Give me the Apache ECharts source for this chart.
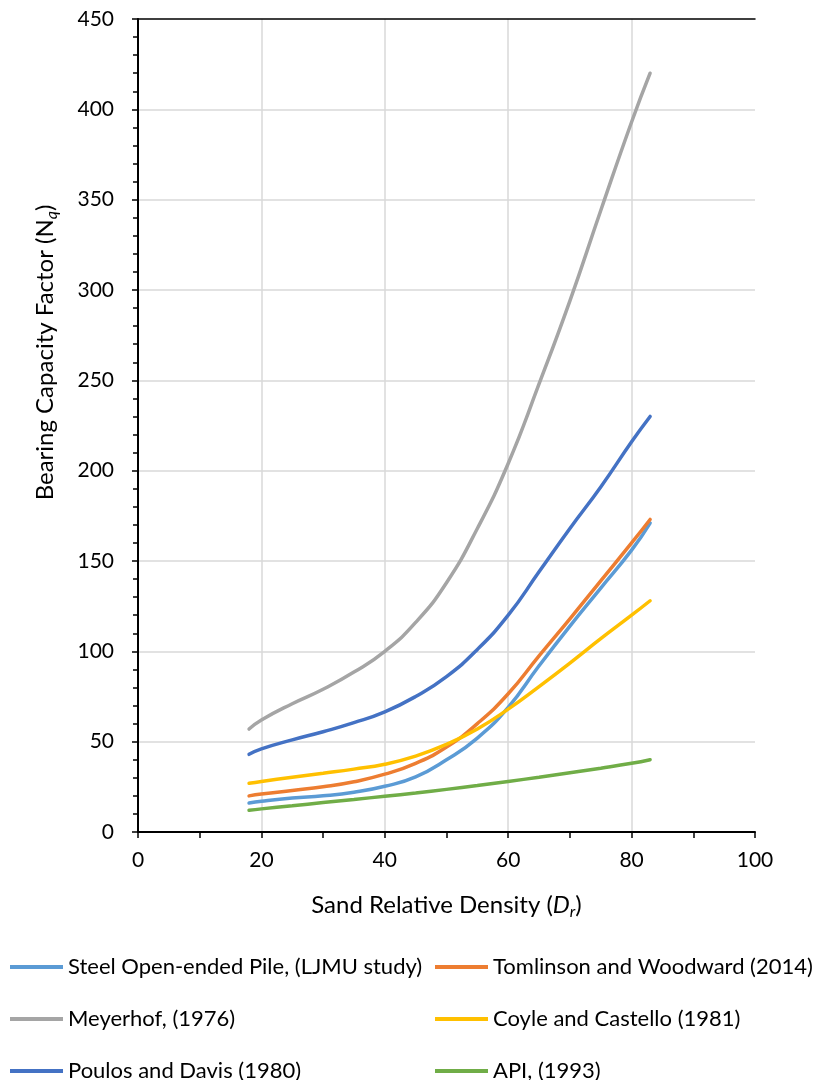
<!DOCTYPE html>
<html>
<head>
<meta charset="utf-8">
<title>Bearing Capacity Factor vs Sand Relative Density</title>
<script src="https://cdn.jsdelivr.net/npm/echarts@6/dist/echarts.min.js"></script>
<style>
  html, body { margin: 0; padding: 0; background: #ffffff; }
  #chart { width: 824px; height: 1080px; }
</style>
</head>
<body>
<div id="chart"></div>
<script>
// Sand relative density, Dr (%)
const densities = [18, 20, 25, 30, 35, 40, 45, 50, 55, 60, 65, 70, 75, 80, 83];

// Bearing capacity factor Nq for each method
const ljmuStudy   = [16, 17, 18.8, 20, 22, 25.3, 30.5, 40, 52, 69, 92, 114, 135, 156, 171];
const tomlinson   = [20, 21, 23, 25, 27.8, 32, 38, 47, 60, 76.5, 97.5, 118, 139, 160, 173];
const meyerhof    = [57, 62, 71, 79, 88.5, 100, 116, 138, 168, 204, 248, 294, 344, 393, 420];
const coyle       = [27, 28, 30.3, 32.5, 34.8, 37.5, 42, 48.5, 57, 68, 80.5, 93.5, 107, 120, 128];
const poulos      = [43, 46, 51, 55.5, 60.5, 66.5, 75, 86, 101, 120, 144, 168, 191, 216, 230];
const api         = [12, 12.8, 14.5, 16.3, 18, 19.8, 21.6, 23.6, 25.7, 28, 30.3, 32.8, 35.3, 38, 40];

const seriesNames = [
  'Steel Open-ended Pile, (LJMU study)',
  'Tomlinson and Woodward (2014)',
  'Meyerhof, (1976)',
  'Coyle and Castello (1981)',
  'Poulos and Davis (1980)',
  'API, (1993)'
];
const seriesValues = [ljmuStudy, tomlinson, meyerhof, coyle, poulos, api];
const seriesColors = ['#5B9BD5', '#ED7D31', '#A5A5A5', '#FFC000', '#4472C4', '#70AD47'];

const xTicks = { min: 0, max: 100, interval: 20 };
const yTicks = { min: 0, max: 450, interval: 50 };

const FONT = 'Lato';
const TEXT = '#000000';

const chart = echarts.init(document.getElementById('chart'), null, { renderer: 'canvas' });

const series = seriesNames.map((name, i) => ({
  name: name,
  type: 'line',
  smooth: 0.5,
  showSymbol: false,
  symbol: 'none',
  xAxisIndex: 0,
  yAxisIndex: 0,
  color: seriesColors[i],
  lineStyle: { width: 3.5, color: seriesColors[i], cap: 'round' },
  data: densities.map((d, j) => [d, seriesValues[i][j]])
}));

// Legend laid out as two columns of three rows, one entry per component
const legendColumns = [10, 435];
const legendRows = [955, 1007, 1059];
const legends = seriesNames.map((name, i) => ({
  data: [name],
  left: legendColumns[i % 2],
  top: legendRows[Math.floor(i / 2)],
  icon: 'rect',
  itemWidth: 53,
  itemHeight: 4,
  padding: 0,
  textStyle: { fontFamily: FONT, fontSize: 22, color: TEXT, lineHeight: 24 }
}));

const option = {
  backgroundColor: '#ffffff',
  animation: false,
  grid: { left: 138, right: 69, top: 19, bottom: 248, containLabel: false },
  legend: legends,
  xAxis: [
    {
      type: 'value',
      position: 'bottom',
      min: xTicks.min, max: xTicks.max, interval: xTicks.interval,
      name: '{a|Sand Relative Density (}{d|D}{r|r}{a|)}',
      nameLocation: 'middle',
      nameGap: 58,
      nameTextStyle: {
        rich: {
          a: { fontFamily: FONT, fontSize: 24, color: TEXT, lineHeight: 30, verticalAlign: 'middle' },
          d: { fontFamily: FONT, fontSize: 24, color: TEXT, fontStyle: 'italic', lineHeight: 30, verticalAlign: 'middle' },
          r: { fontFamily: FONT, fontSize: 16, color: TEXT, fontStyle: 'italic', lineHeight: 16, verticalAlign: 'bottom' }
        }
      },
      axisLine: { show: true, onZero: false, lineStyle: { color: '#000000', width: 2 } },
      axisTick: { show: true, inside: false, length: 6, lineStyle: { color: '#000000', width: 1.5 } },
      minorTick: { show: true, splitNumber: 2, length: 6, lineStyle: { color: '#000000', width: 1.5 } },
      axisLabel: { fontFamily: FONT, fontSize: 21, color: TEXT, margin: 18 },
      splitLine: { show: true, showMinLine: false, showMaxLine: false, lineStyle: { color: '#D9D9D9', width: 1.5 } }
    },
    {
      // top frame edge of the plot area
      type: 'value',
      position: 'top',
      min: xTicks.min, max: xTicks.max, interval: xTicks.interval,
      axisLine: { show: true, onZero: false, lineStyle: { color: '#000000', width: 1.5 } },
      axisTick: { show: false },
      axisLabel: { show: false },
      splitLine: { show: false }
    }
  ],
  yAxis: {
    type: 'value',
    min: yTicks.min, max: yTicks.max, interval: yTicks.interval,
    name: '{a|Bearing Capacity Factor (N}{q|q}{a|)}',
    nameLocation: 'middle',
    nameGap: 78,
    nameTextStyle: {
      padding: [0, 0, 0, 146],
      rich: {
        a: { fontFamily: FONT, fontSize: 24, color: TEXT, lineHeight: 30, verticalAlign: 'middle' },
        q: { fontFamily: FONT, fontSize: 16, color: TEXT, fontStyle: 'italic', lineHeight: 16, verticalAlign: 'bottom' }
      }
    },
    axisLine: { show: true, onZero: false, lineStyle: { color: '#000000', width: 2 } },
    axisTick: { show: true, inside: false, length: 6, lineStyle: { color: '#000000', width: 1.5 } },
    minorTick: { show: true, splitNumber: 5, length: 5, lineStyle: { color: '#000000', width: 1.5 } },
    axisLabel: { fontFamily: FONT, fontSize: 21, color: TEXT, margin: 24 },
    splitLine: { show: true, showMinLine: false, showMaxLine: false, lineStyle: { color: '#D9D9D9', width: 1.5 } }
  },
  series: series
};

chart.setOption(option);
</script>
</body>
</html>
